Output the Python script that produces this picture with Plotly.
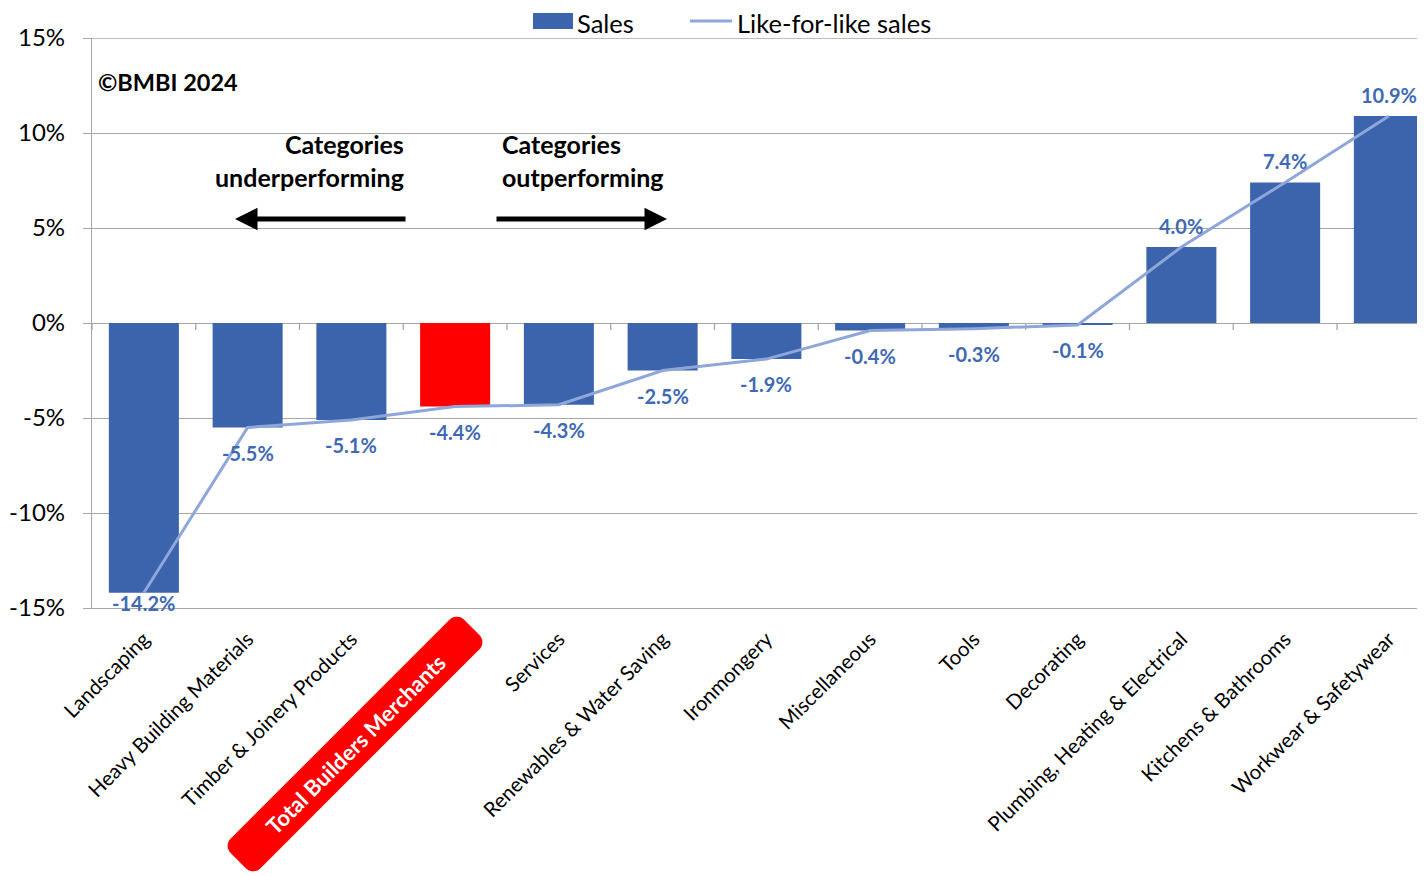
import math
import plotly.graph_objects as go

categories = [
    "Landscaping", "Heavy Building Materials", "Timber & Joinery Products",
    "Total Builders Merchants", "Services", "Renewables & Water Saving",
    "Ironmongery", "Miscellaneous", "Tools", "Decorating",
    "Plumbing, Heating & Electrical", "Kitchens & Bathrooms", "Workwear & Safetywear",
]
sales = [-14.2, -5.5, -5.1, -4.4, -4.3, -2.5, -1.9, -0.4, -0.3, -0.1, 4.0, 7.4, 10.9]
like_for_like = [-14.2, -5.5, -5.1, -4.4, -4.3, -2.5, -1.9, -0.4, -0.3, -0.1, 4.0, 7.4, 10.9]
highlight = "Total Builders Merchants"
y_tick_values = [-15, -10, -5, 0, 5, 10, 15]
y_tick_labels = ["-15%", "-10%", "-5%", "0%", "5%", "10%", "15%"]
series_names = ["Sales", "Like-for-like sales"]

# page body has an 8px margin; compensate so the plot lands where the reference is
OX = 8
W, H = 1417, 868
ML, MR, MT, MB = 84, 0, 30, 268
PW, PH = W - ML - MR, H - MT - MB
YMIN, YMAX = -15, 15
CAT_PX = 103.75  # pixel width of one category (chart continues past the right edge)
X_MAX = -0.5 + PW / CAT_PX
FONT = "Lato"
BAR_BLUE = "#3C64AC"
LABEL_BLUE = "#4169B3"
LINE_BLUE = "#8FA6DA"
GRID = "#A6A6A6"


def px2paper(x, y):
    """screen pixel -> paper coords"""
    return (x - OX - ML) / PW, (OX + H - MB - y) / PH


xs = list(range(len(categories)))
bar_colors = ["#FF0000" if c == highlight else BAR_BLUE for c in categories]
tick_text = ["" if c == highlight else c for c in categories]

fig = go.Figure()
fig.add_trace(go.Bar(x=xs, y=sales, name=series_names[0], marker_color=bar_colors,
                     marker_line_width=0, width=0.675, showlegend=False))
fig.add_trace(go.Scatter(x=xs, y=like_for_like, name=series_names[1], mode="lines",
                         line=dict(color=LINE_BLUE, width=3), showlegend=False))

# data labels
ppu = PH / (YMAX - YMIN)
plot_bottom = OX + H - MB
annotations = []
for i, v in enumerate(sales):
    if v < 0:
        ypix = OX + MT + (YMAX - v) * ppu
        target = min(ypix + 25, plot_bottom - 5)
        shift = -(target - ypix)
    else:
        shift = 21
    annotations.append(dict(x=i, y=v, xref="x", yref="y", text=f"<b>{v:.1f}%</b>",
                            showarrow=False, yshift=shift,
                            font=dict(family=FONT, size=20, color=LABEL_BLUE)))

# custom legend (wide swatch like the reference)
shapes = []
l1x0, l1y0 = px2paper(533, 13)
l1x1, l1y1 = px2paper(573, 29)
shapes.append(dict(type="rect", xref="paper", yref="paper", x0=l1x0, x1=l1x1, y0=l1y0, y1=l1y1,
                   fillcolor=BAR_BLUE, line=dict(width=0)))
l2x0, l2y = px2paper(690, 21)
l2x1, _ = px2paper(732, 21)
shapes.append(dict(type="line", xref="paper", yref="paper", x0=l2x0, x1=l2x1, y0=l2y, y1=l2y,
                   line=dict(color=LINE_BLUE, width=3)))
for name, xpix in zip(series_names, [575, 735]):
    lx, ly = px2paper(xpix, 23)
    annotations.append(dict(x=lx, y=ly, xref="paper", yref="paper", xanchor="left", yanchor="middle",
                            text=name, showarrow=False, font=dict(family=FONT, size=25.5, color="black")))

# text annotations
bx, by = px2paper(96, 82)
annotations.append(dict(x=bx, y=by, xref="paper", yref="paper", xanchor="left", yanchor="middle",
                        text="<b>©BMBI 2024</b>", showarrow=False,
                        font=dict(family=FONT, size=23.5, color="black")))
ux, uy = px2paper(406, 160)
annotations.append(dict(x=ux, y=uy, xref="paper", yref="paper", xanchor="right", yanchor="middle",
                        align="right", text="<b>Categories<br>underperforming</b>", showarrow=False,
                        font=dict(family=FONT, size=25, color="black")))
ox, oy = px2paper(500, 160)
annotations.append(dict(x=ox, y=oy, xref="paper", yref="paper", xanchor="left", yanchor="middle",
                        align="left", text="<b>Categories<br>outperforming</b>", showarrow=False,
                        font=dict(family=FONT, size=25, color="black")))
# arrows
for (hx, tx) in [(235, 407), (667, 495)]:
    hxp, hyp = px2paper(hx, 219)
    annotations.append(dict(x=hxp, y=hyp, ax=tx - hx, ay=0, xref="paper", yref="paper",
                            axref="pixel", ayref="pixel", text="", showarrow=True,
                            arrowhead=2, arrowsize=0.9, arrowwidth=5, arrowcolor="black"))

# highlighted category label on red rounded box
cx, cy = 355, 744
theta = math.radians(45)
tcx, tcy = px2paper(cx, cy)
annotations.append(dict(x=tcx, y=tcy, xref="paper", yref="paper", text=f"<b>{highlight}</b>",
                        showarrow=False, textangle=-45, xanchor="center", yanchor="middle",
                        font=dict(family=FONT, size=22, color="white")))

L, Wd, R = 330, 42, 10
u = (math.cos(theta), -math.sin(theta))
vv = (math.sin(theta), math.cos(theta))


def pt(a, b):
    return (cx + a * u[0] + b * vv[0], cy + a * u[1] + b * vv[1])


pts = []
hl, hw = L / 2, Wd / 2
corners = [(hl - R, hw - R, 0), (-hl + R, hw - R, 90), (-hl + R, -hw + R, 180), (hl - R, -hw + R, 270)]
for (a0, b0, start) in corners:
    for k in range(0, 10):
        ang = math.radians(start + k * 10)
        pts.append(pt(a0 + R * math.cos(ang), b0 + R * math.sin(ang)))
path = "M " + " L ".join(f"{px2paper(x, y)[0]:.5f},{px2paper(x, y)[1]:.5f}" for x, y in pts) + " Z"
shapes.append(dict(type="path", path=path, xref="paper", yref="paper", fillcolor="#FF0000",
                   line=dict(width=0), layer="below"))

# small category ticks on the zero line
for k in range(len(categories) + 1):
    if k - 0.5 <= X_MAX:
        shapes.append(dict(type="line", xref="x", yref="y", x0=k - 0.5, x1=k - 0.5, y0=0, y1=-0.37,
                           line=dict(color=GRID, width=1.3)))
# top border line
shapes.append(dict(type="line", xref="paper", yref="y", x0=0, x1=1, y0=YMAX, y1=YMAX,
                   line=dict(color=GRID, width=1.3)))

fig.update_layout(
    width=W, height=H,
    margin=dict(l=ML, r=MR, t=MT, b=MB, pad=0, autoexpand=False),
    paper_bgcolor="white", plot_bgcolor="white",
    font=dict(family=FONT, color="black"),
    showlegend=False,
    annotations=annotations,
    shapes=shapes,
)
fig.update_xaxes(tickmode="array", tickvals=xs, ticktext=tick_text, tickangle=-45,
                 range=[-0.5, X_MAX], showgrid=False, zeroline=False,
                 showline=True, linecolor=GRID, linewidth=1.3, ticks="", automargin=False,
                 ticklabelstandoff=10,
                 tickfont=dict(family=FONT, size=20.5, color="black"))
fig.update_yaxes(range=[YMIN, YMAX], tickmode="array", tickvals=y_tick_values, ticktext=y_tick_labels,
                 showgrid=True, gridcolor=GRID, gridwidth=1.3, zeroline=True, zerolinecolor=GRID,
                 zerolinewidth=1.3, showline=True, linecolor=GRID, linewidth=1.3, automargin=False,
                 ticks="outside", ticklen=8, tickcolor=GRID, ticklabelstandoff=13,
                 tickfont=dict(family=FONT, size=24, color="black"))

fig.write_html("out.html", config={"displayModeBar": False})
